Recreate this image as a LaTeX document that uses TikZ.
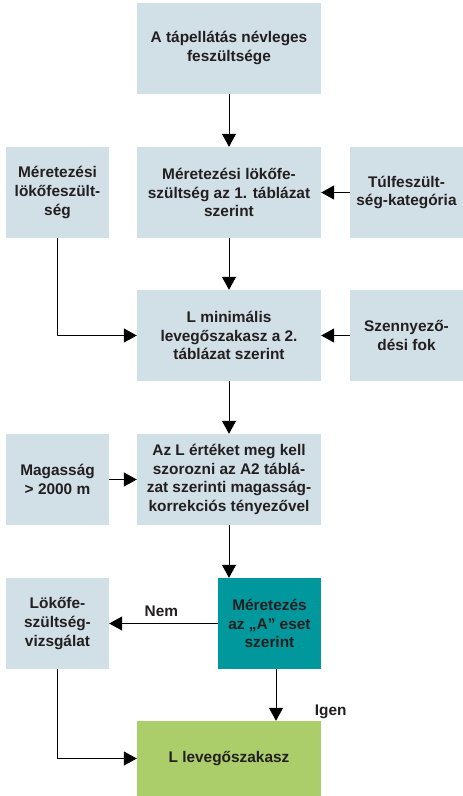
\documentclass[tikz,border=0pt]{standalone}
\usepackage{fontspec}
\setmainfont{Liberation Sans}
\usetikzlibrary{arrows.meta}
\definecolor{boxgray}{HTML}{D1DFE6}
\definecolor{boxteal}{HTML}{00979D}
\definecolor{boxgreen}{HTML}{ABCD6A}
\definecolor{txtdark}{HTML}{231F20}
\begin{document}
\begin{tikzpicture}[x=1pt, y=-1pt, line join=round,
    box/.style={fill=boxgray, minimum height=91pt, inner sep=2pt, align=center,
        text=txtdark, font=\fontsize{15.4}{18.7}\selectfont\bfseries},
    wide/.style={box, minimum width=184pt},
    narrow/.style={box, minimum width=103pt},
    flow/.style={line width=1pt, -{Triangle[length=13pt, width=14pt]}}]
    \useasboundingbox (0,0) rectangle (463,796);

    % middle column
    \node[wide] (nevleges) at (229,48) {A tápellátás névleges\\feszültsége};
    \node[wide] (lokofesz) at (229,192.5) {Méretezési lökőfe-\\szültség az 1. táblázat\\szerint};
    \node[wide] (minimalis) at (229,335.5) {L minimális\\levegőszakasz a 2.\\táblázat szerint};
    \node[wide] (korrekcio) at (229,479.5) {Az L értéket meg kell\\szorozni az A2 táblá-\\zat szerinti magasság-\\korrekciós tényezővel};
    \node[wide, fill=boxgreen, minimum height=75pt] (levego) at (229,758.5) {L levegőszakasz};

    % side boxes
    \node[narrow] (meretezesi) at (57.5,192.5) {Méretezési\\lökőfeszült-\\ség};
    \node[box, minimum width=113pt] (tulfesz) at (406.5,192.5) {Túlfeszült-\\ség-kategória};
    \node[box, minimum width=113pt] (szennyez) at (406.5,335.5) {Szennyező-\\dési fok};
    \node[narrow] (magassag) at (57.5,479.5) {Magasság\\> 2000 m};
    \node[narrow] (vizsgalat) at (57.5,623.5) {Lökőfe-\\szültség-\\vizsgálat};
    \node[narrow, fill=boxteal] (esetA) at (269.5,623.5) {Méretezés\\az „A” eset\\szerint};

    \coordinate (tealout) at (276,669);

    % connectors
    \draw[flow] (nevleges) -- (lokofesz);
    \draw[flow] (tulfesz) -- (lokofesz);
    \draw[flow] (lokofesz) -- (minimalis);
    \draw[flow] (meretezesi.south) |- (minimalis.west);
    \draw[flow] (szennyez) -- (minimalis);
    \draw[flow] (minimalis) -- (korrekcio);
    \draw[flow] (magassag) -- (korrekcio);
    \draw[flow] (korrekcio.south) -- (korrekcio.south |- esetA.north);
    \draw[flow] (esetA.west) -- (vizsgalat.east)
        node[pos=0.52, above=3pt, text=txtdark, font=\fontsize{15.4}{18}\selectfont\bfseries] {Nem};
    \draw[flow] (tealout) -- (tealout |- levego.north)
        node[pos=0.82, right=35pt, text=txtdark, font=\fontsize{15.4}{18}\selectfont\bfseries] {Igen};
    \draw[flow] (vizsgalat.south) |- (levego.west);
\end{tikzpicture}
\end{document}
